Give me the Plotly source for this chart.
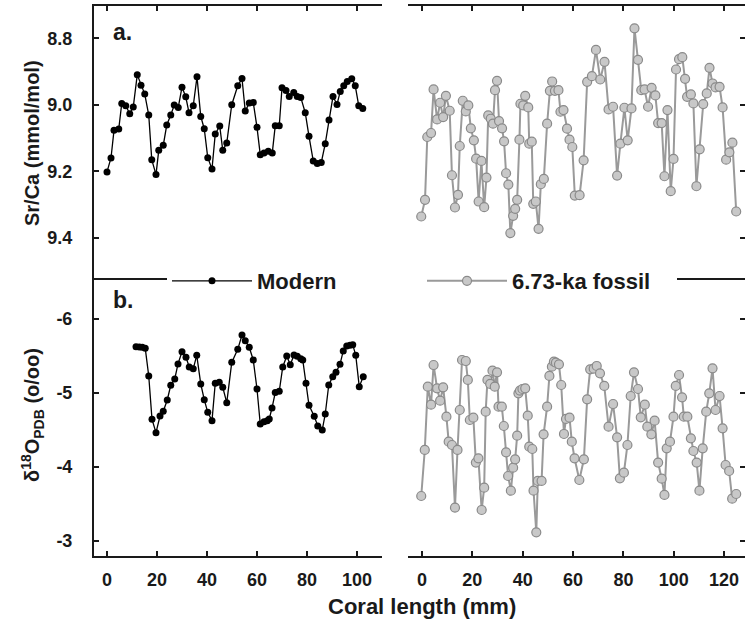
import plotly.graph_objects as go

# ---------------- data ----------------
mod_x_sr = [0, 1.6, 2.8, 4.7, 5.9, 7.5, 9.1, 10.5, 12.1, 13.6, 15.1, 16.7, 17.9, 19.6, 20.7, 22.5,
            23.9, 25.5, 26.9, 28.5, 30.0, 31.5, 32.8, 34.5, 36.0, 37.5, 38.9, 40.3, 42.0, 43.3, 45.1,
            46.3, 47.9, 49.9, 52.3, 54.0, 55.3, 56.9, 58.5, 60.0, 61.3, 62.8, 64.5, 66.1, 67.3, 68.9,
            70.0, 71.6, 72.9, 74.7, 76.1, 77.5, 79.3, 80.8, 82.5, 84.1, 85.7, 87.3, 88.8, 90.4, 92.0,
            93.3, 94.7, 96.1, 97.9, 99.3, 100.7, 102.3]
mod_sr = [9.202, 9.160, 9.077, 9.073, 8.996, 9.003, 9.027, 9.007, 8.910, 8.941, 8.968, 9.031, 9.165,
          9.210, 9.137, 9.122, 9.061, 9.031, 9.001, 9.008, 8.947, 8.976, 9.024, 9.003, 8.916, 9.035,
          9.072, 9.159, 9.193, 9.088, 9.064, 9.137, 9.115, 9.000, 8.943, 8.921, 9.019, 8.995, 8.993,
          9.068, 9.150, 9.145, 9.140, 9.145, 9.063, 9.063, 8.949, 8.957, 8.975, 8.963, 8.975, 8.978,
          9.024, 9.095, 9.169, 9.177, 9.174, 9.117, 9.046, 8.975, 8.999, 8.960, 8.943, 8.930, 8.922,
          8.943, 9.003, 9.011]

mod_x_o = [11.6, 12.9, 14.1, 15.3, 16.7, 18.0, 19.6, 21.2, 22.5, 24.1, 25.5, 27.1, 28.4, 30.0, 31.6,
           32.9, 34.5, 35.9, 37.5, 38.9, 40.3, 42.0, 43.3, 44.9, 46.3, 47.9, 49.9, 52.3, 54.0, 55.3,
           56.9, 58.5, 60.0, 61.3, 62.8, 64.1, 64.9, 66.0, 67.3, 68.9, 70.3, 71.9, 73.3, 74.8, 76.1,
           77.5, 78.3, 79.6, 80.8, 82.9, 84.3, 86.1, 87.3, 88.7, 90.3, 91.6, 93.2, 94.5, 95.9, 97.2,
           98.3, 99.5, 100.9, 102.5]
mod_o = [-5.626, -5.622, -5.617, -5.604, -5.230, -4.644, -4.464, -4.689, -4.752, -4.905, -5.104,
         -5.189, -5.392, -5.559, -5.482, -5.351, -5.329, -5.509, -5.122, -4.910, -4.739, -4.626,
         -5.131, -5.144, -5.077, -4.869, -5.414, -5.590, -5.784, -5.707, -5.617, -5.446, -5.054,
         -4.581, -4.613, -4.626, -4.649, -4.797, -5.005, -5.023, -5.351, -5.500, -5.383, -5.514,
         -5.495, -5.464, -5.446, -5.131, -4.833, -4.685, -4.554, -4.500, -4.716, -5.108, -5.221,
         -5.279, -5.387, -5.568, -5.635, -5.644, -5.653, -5.509, -5.086, -5.221]

fos_x_sr = [-0.3, 1.2, 2.1, 3.6, 4.6, 6.0, 7.2, 8.4, 9.5, 11.0, 11.9, 13.1, 14.3, 15.0, 16.2, 17.4,
            18.4, 19.4, 20.6, 21.5, 22.5, 23.6, 24.7, 25.6, 26.3, 27.3, 28.2, 29.0, 29.8, 30.6, 31.8,
            32.6, 33.4, 34.3, 35.1, 36.2, 37.0, 37.8, 38.7, 39.1, 40.2, 41.0, 42.2, 42.6, 43.6, 44.2,
            45.2, 46.3, 47.2, 48.4, 49.7, 50.8, 51.7, 52.8, 54.2, 55.0, 56.2, 57.6, 58.6, 59.7, 60.7,
            62.6, 64.2, 65.6, 67.5, 69.1, 70.8, 72.5, 74.1, 75.9, 77.5, 78.8, 80.4, 81.7, 83.2, 84.4,
            85.8, 87.1, 88.4, 89.8, 91.2, 92.7, 93.8, 95.2, 96.3, 97.5, 98.8, 99.9, 100.9, 102.1,
            103.4, 104.5, 105.3, 106.8, 107.8, 109.0, 110.3, 111.7, 113.1, 114.2, 115.4, 116.6, 118.2,
            119.4, 120.8, 122.1, 123.3, 124.8]
fos_sr = [9.336, 9.286, 9.097, 9.085, 8.954, 9.044, 8.994, 9.037, 8.973, 9.018, 9.212, 9.309, 9.271,
          9.124, 8.988, 9.020, 9.002, 9.071, 9.107, 9.162, 9.291, 9.169, 9.308, 9.219, 9.032, 9.042,
          9.057, 8.956, 8.928, 9.049, 9.071, 9.110, 9.206, 9.240, 9.386, 9.334, 9.313, 9.286, 9.105,
          8.997, 9.002, 8.973, 9.008, 9.117, 9.111, 9.298, 9.291, 9.373, 9.239, 9.223, 9.057, 8.958,
          8.930, 8.958, 8.956, 9.021, 9.016, 9.072, 9.105, 9.127, 9.273, 9.272, 9.167, 8.931, 8.914,
          8.835, 8.924, 8.871, 9.014, 9.006, 9.213, 9.117, 9.009, 9.107, 9.011, 8.770, 8.865, 8.956,
          8.954, 9.006, 8.949, 8.972, 9.055, 9.055, 9.215, 9.016, 9.260, 9.163, 8.894, 8.863, 8.857,
          8.922, 8.976, 8.969, 8.996, 9.245, 9.134, 8.998, 8.966, 8.889, 8.936, 8.948, 8.946, 9.008,
          9.165, 9.143, 9.114, 9.321]

fos_x_o = [-0.3, 1.1, 2.3, 3.6, 4.6, 6.0, 7.2, 8.4, 9.7, 10.6, 11.9, 13.1, 14.1, 15.0, 15.9, 17.4,
           18.2, 19.0, 20.4, 21.4, 22.4, 23.7, 24.7, 25.3, 26.0, 27.1, 28.0, 28.9, 29.8, 30.4, 31.7,
           32.5, 33.4, 34.2, 35.3, 36.2, 37.0, 37.8, 38.3, 38.9, 39.9, 41.0, 42.0, 42.6, 43.8, 44.3,
           45.4, 46.0, 47.5, 48.3, 49.7, 50.6, 51.6, 52.4, 53.2, 54.4, 55.3, 56.4, 57.2, 58.6, 59.5,
           60.6, 62.5, 64.3, 65.6, 66.8, 68.2, 69.4, 70.7, 72.4, 74.1, 75.9, 77.5, 78.6, 80.2, 81.6,
           82.9, 84.2, 85.8, 86.9, 88.5, 89.5, 91.1, 92.4, 93.8, 95.2, 96.3, 97.2, 98.5, 99.9, 100.8,
           102.1, 103.3, 104.0, 105.4, 106.8, 107.8, 109.1, 110.2, 111.5, 112.9, 114.1, 115.4, 116.6,
           118.2, 119.4, 120.6, 122.0, 123.2, 124.8]
fos_o = [-3.608, -4.230, -5.086, -4.842, -5.378, -5.063, -4.896, -5.077, -4.680, -4.342, -4.297,
         -3.450, -4.230, -4.770, -5.446, -5.432, -5.176, -4.635, -4.667, -4.059, -4.117, -3.419,
         -3.721, -4.748, -5.176, -5.122, -5.302, -5.086, -5.279, -4.815, -4.815, -4.554, -4.198,
         -3.878, -3.680, -3.991, -4.104, -4.423, -4.995, -5.032, -5.054, -5.063, -4.694, -4.275,
         -4.243, -3.680, -3.117, -3.811, -3.811, -4.441, -4.815, -5.230, -5.356, -5.423, -5.410,
         -5.387, -5.108, -4.446, -4.649, -4.667, -4.342, -4.117, -3.824, -4.104, -4.914, -5.320,
         -5.329, -5.365, -5.266, -5.095, -4.545, -4.851, -4.401, -3.847, -3.923, -4.297, -4.959,
         -5.279, -5.054, -4.671, -4.842, -4.545, -4.441, -4.626, -4.059, -3.842, -3.622, -4.252,
         -4.342, -4.680, -5.095, -5.243, -4.941, -4.680, -4.680, -4.387, -4.216, -4.059, -3.680,
         -4.252, -4.748, -4.995, -5.333, -4.770, -4.959, -4.523, -4.027, -3.946, -3.572, -3.635]

mod_ticks = [0, 20, 40, 60, 80, 100]
fos_ticks = [0, 20, 40, 60, 80, 100, 120]
sr_ticks = [8.8, 9.0, 9.2, 9.4]
sr_labels = ["8.8", "9.0", "9.2", "9.4"]
o_ticks = [-6, -5, -4, -3]
o_labels = ["-6", "-5", "-4", "-3"]

# ---------------- styles ----------------
FONT = "Liberation Sans, Arial, sans-serif"
AX = "#1a1a1a"
W, H = 745, 625

def px_x(p):
    return p / W

def px_y(p):
    return 1 - p / H

left_dom = [px_x(94), px_x(382)]
right_dom = [px_x(408), 1.0]
top_dom = [px_y(280), px_y(6)]
bot_dom = [px_y(556), px_y(280)]

mod_style = dict(mode="lines+markers", line=dict(color="black", width=1.3),
                 marker=dict(color="black", size=7, line=dict(width=0)))
fos_style = dict(mode="lines+markers", line=dict(color="#9a9a9a", width=2),
                 marker=dict(color="#c8c8c8", size=9, line=dict(color="#8a8a8a", width=1.2)))

fig = go.Figure()
fig.add_trace(go.Scatter(x=mod_x_sr, y=mod_sr, xaxis="x", yaxis="y", name="Modern",
                         showlegend=True, **mod_style))
fig.add_trace(go.Scatter(x=fos_x_sr, y=fos_sr, xaxis="x2", yaxis="y2", name="6.73-ka fossil",
                         showlegend=True, **fos_style))
fig.add_trace(go.Scatter(x=mod_x_o, y=mod_o, xaxis="x3", yaxis="y3", name="Modern",
                         showlegend=False, **mod_style))
fig.add_trace(go.Scatter(x=fos_x_o, y=fos_o, xaxis="x4", yaxis="y4", name="6.73-ka fossil",
                         showlegend=False, **fos_style))

tickfont = dict(family=FONT, size=18, color="#1a1a1a", weight="bold")
common = dict(showline=True, linecolor=AX, linewidth=2, ticks="inside", ticklen=5,
              tickwidth=1.5, tickcolor=AX, showgrid=False, zeroline=False, tickfont=tickfont)

fig.update_layout(
    width=W, height=H, margin=dict(l=0, r=0, t=0, b=0),
    paper_bgcolor="white", plot_bgcolor="white",
    font=dict(family=FONT, color="#1a1a1a"),
    xaxis=dict(domain=left_dom, range=[-5.2, 110], anchor="y", side="top",
               tickvals=mod_ticks, showticklabels=False, **common),
    yaxis=dict(domain=top_dom, range=[9.527, 8.703], anchor="x", side="left",
               tickvals=sr_ticks, ticktext=sr_labels, ticklabelstandoff=16, **common),
    xaxis2=dict(domain=right_dom, range=[-5.56, 128.3], anchor="y2", side="top",
                tickvals=fos_ticks, showticklabels=False, **common),
    yaxis2=dict(domain=top_dom, range=[9.527, 8.703], anchor="x2", side="right",
                tickvals=sr_ticks, showticklabels=False,
                **{**common, "showline": False}),
    xaxis3=dict(domain=left_dom, range=[-5.2, 110], anchor="y3", side="bottom", mirror=True,
                tickvals=mod_ticks, ticklabelstandoff=6, **common),
    yaxis3=dict(domain=bot_dom, range=[-2.797, -6.527], anchor="x3", side="left",
                tickvals=o_ticks, ticktext=o_labels, ticklabelstandoff=16, **common),
    xaxis4=dict(domain=right_dom, range=[-5.56, 128.3], anchor="y4", side="bottom", mirror=True,
                tickvals=fos_ticks, ticklabelstandoff=6, **common),
    yaxis4=dict(domain=bot_dom, range=[-2.797, -6.527], anchor="x4", side="right",
                tickvals=o_ticks, showticklabels=False,
                **{**common, "showline": False}),
    legend=dict(orientation="h", x=px_x(422), xanchor="center", y=px_y(281), yanchor="middle",
                bgcolor="white", borderwidth=0, itemwidth=80,
                entrywidth=160, entrywidthmode="pixels",
                font=dict(family=FONT, size=22, color="#1a1a1a", weight="bold")),
    annotations=[
        dict(text="Coral length (mm)", xref="paper", yref="paper", x=px_x(422), y=px_y(606),
             showarrow=False, font=dict(family=FONT, size=22, weight="bold"),
             xanchor="center", yanchor="middle"),
        dict(text="Sr/Ca (mmol/mol)", xref="paper", yref="paper", x=px_x(32), y=px_y(143),
             textangle=-90, showarrow=False, font=dict(family=FONT, size=20, weight="bold"),
             xanchor="center", yanchor="middle"),
        dict(text="δ<sup>18</sup>O<sub>PDB</sub> (o/oo)", xref="paper", yref="paper",
             x=px_x(32), y=px_y(415), textangle=-90, showarrow=False,
             font=dict(family=FONT, size=20, weight="bold"),
             xanchor="center", yanchor="middle"),
        dict(text="a.", xref="paper", yref="paper", x=px_x(111), y=px_y(32),
             showarrow=False, font=dict(family=FONT, size=23, weight="bold"),
             xanchor="left", yanchor="middle"),
        dict(text="b.", xref="paper", yref="paper", x=px_x(111), y=px_y(300),
             showarrow=False, font=dict(family=FONT, size=23, weight="bold"),
             xanchor="left", yanchor="middle"),
    ],
)

fig.write_html("out.html")
